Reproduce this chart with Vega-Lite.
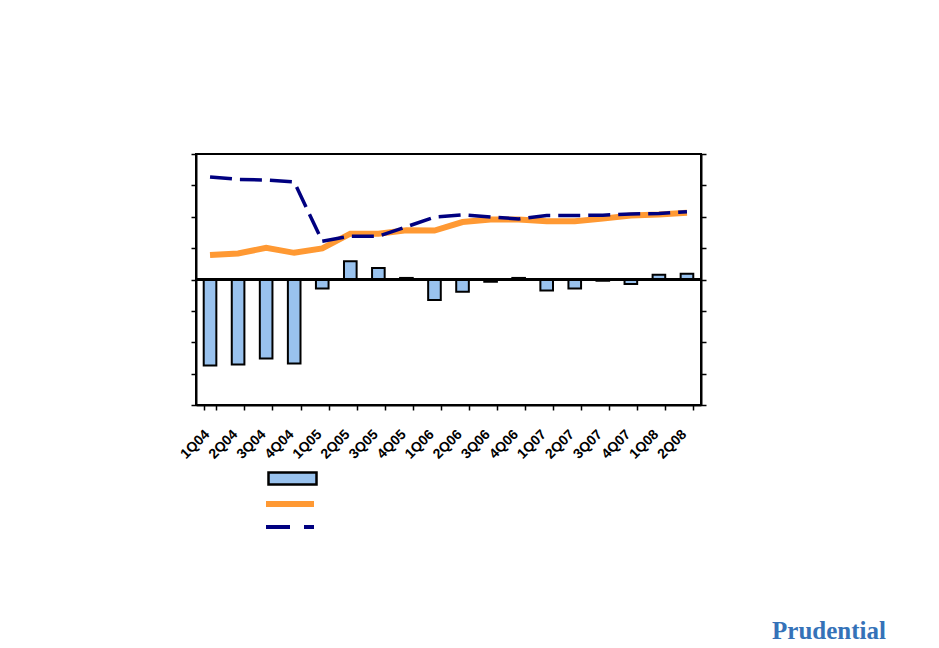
{
  "$schema": "https://vega.github.io/schema/vega-lite/v6.json",
  "width": 505,
  "height": 251,
  "autosize": {"type": "none"},
  "padding": {"left": 196, "top": 154, "right": 238, "bottom": 243},
  "background": "white",
  "config": {
    "view": {"stroke": "black", "strokeWidth": 2},
    "font": "Liberation Sans"
  },
  "title": {
    "text": "Prudential",
    "orient": "bottom",
    "anchor": "end",
    "frame": "group",
    "font": "Liberation Serif",
    "fontSize": 25,
    "fontWeight": "bold",
    "color": "#3572B8",
    "dx": 185,
    "dy": 80
  },
  "data": {
    "values": [
      {"quarter": "1Q04", "bar": -2.74, "orange": 0.78, "navy": 3.27},
      {"quarter": "2Q04", "bar": -2.71, "orange": 0.83, "navy": 3.19},
      {"quarter": "3Q04", "bar": -2.52, "orange": 1.01, "navy": 3.17},
      {"quarter": "4Q04", "bar": -2.68, "orange": 0.85, "navy": 3.11},
      {"quarter": "1Q05", "bar": -0.29, "orange": 0.99, "navy": 1.22},
      {"quarter": "2Q05", "bar": 0.58, "orange": 1.46, "navy": 1.38},
      {"quarter": "3Q05", "bar": 0.37, "orange": 1.46, "navy": 1.38},
      {"quarter": "4Q05", "bar": 0.05, "orange": 1.57, "navy": 1.68},
      {"quarter": "1Q06", "bar": -0.65, "orange": 1.56, "navy": 1.99},
      {"quarter": "2Q06", "bar": -0.39, "orange": 1.83, "navy": 2.06},
      {"quarter": "3Q06", "bar": -0.07, "orange": 1.91, "navy": 1.99},
      {"quarter": "4Q06", "bar": 0.05, "orange": 1.91, "navy": 1.93},
      {"quarter": "1Q07", "bar": -0.35, "orange": 1.86, "navy": 2.04},
      {"quarter": "2Q07", "bar": -0.29, "orange": 1.86, "navy": 2.04},
      {"quarter": "3Q07", "bar": -0.04, "orange": 1.94, "navy": 2.05},
      {"quarter": "4Q07", "bar": -0.14, "orange": 2.04, "navy": 2.09},
      {"quarter": "1Q08", "bar": 0.15, "orange": 2.07, "navy": 2.10},
      {"quarter": "2Q08", "bar": 0.18, "orange": 2.13, "navy": 2.16}
    ]
  },
  "layer": [
    {
      "encoding": {
        "y": {
          "field": "bar",
          "type": "quantitative",
          "scale": {"domain": [-4, 4], "nice": false},
          "axis": {
            "title": null,
            "labels": false,
            "values": [-4, -3, -2, -1, 0, 1, 2, 3, 4],
            "tickSize": 5,
            "tickColor": "black",
            "tickWidth": 1.5,
            "domainColor": "black",
            "domainWidth": 2,
            "grid": false,
            "orient": "left"
          }
        }
      },
      "layer": [
        {
          "mark": {"type": "bar", "stroke": "black", "strokeWidth": 2},
          "encoding": {
            "x": {
              "field": "quarter",
              "type": "ordinal",
              "sort": null,
              "scale": {"paddingInner": 0.55, "paddingOuter": 0.275},
              "axis": {
                "title": null,
                "labelAngle": -45,
                "labelFont": "Liberation Sans",
                "labelFontSize": 14,
                "labelFontWeight": "bold",
                "labelColor": "black",
                "tickBand": "extent",
                "tickColor": "black",
                "tickSize": 5,
                "tickWidth": 1.5,
                "domainColor": "black",
                "domainWidth": 2,
                "labelPadding": 17,
                "labelOffset": -8
              }
            },
            "fill": {
              "datum": "A",
              "scale": {"domain": ["A"], "range": ["#99C2EE"]},
              "legend": {
                "orient": "none",
                "legendX": 87,
                "legendY": 315,
                "title": null,
                "labelExpr": "''",
                "symbolSize": 256,
                "symbolType": "M-3,-0.75H3V0.75H-3Z",
                "symbolStrokeColor": "black",
                "symbolStrokeWidth": 2.5,
                "symbolOpacity": 1
              }
            }
          }
        },
        {
          "mark": {"type": "rule", "color": "black", "strokeWidth": 1.4},
          "encoding": {"y": {"datum": 0}}
        }
      ]
    },
    {
      "encoding": {
        "x": {"field": "quarter", "type": "ordinal", "sort": null},
        "y": {
          "type": "quantitative",
          "scale": {"domain": [-4, 4], "nice": false},
          "axis": {
            "title": null,
            "labels": false,
            "values": [-4, -3, -2, -1, 0, 1, 2, 3, 4],
            "tickSize": 5,
            "tickColor": "black",
            "tickWidth": 1.5,
            "domainColor": "black",
            "domainWidth": 2,
            "grid": false,
            "orient": "right"
          }
        }
      },
      "layer": [
        {
          "mark": {"type": "line", "strokeWidth": 6},
          "encoding": {
            "y": {"field": "orange", "type": "quantitative"},
            "stroke": {
              "datum": "B",
              "scale": {"domain": ["B", "C"], "range": ["#FF9933", "#000080"]},
              "legend": {
                "orient": "none",
                "legendX": 89,
                "legendY": 345,
                "title": null,
                "labelExpr": "''",
                "symbolSize": 256,
                "rowPadding": 3,
                "symbolType": "M-3,0H3",
                "symbolStrokeWidth": {"expr": "datum.value === 'B' ? 6 : 4"},
                "symbolDash": {"expr": "datum.value === 'C' ? [24, 14] : [1, 0]"},
                "symbolOpacity": 1
              }
            }
          }
        },
        {
          "mark": {"type": "line", "strokeWidth": 3.5, "strokeDash": [22, 8]},
          "encoding": {
            "y": {"field": "navy", "type": "quantitative"},
            "stroke": {"datum": "C"}
          }
        }
      ]
    }
  ],
  "resolve": {"scale": {"y": "independent"}, "axis": {"y": "independent"}}
}
